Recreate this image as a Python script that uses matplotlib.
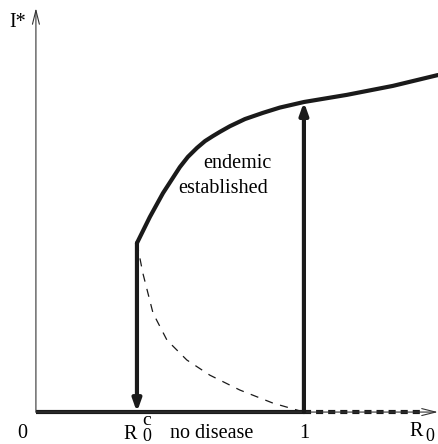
import matplotlib
matplotlib.use("Agg")
import matplotlib.pyplot as plt

plt.rcParams['font.family'] = ['Liberation Serif', 'DejaVu Serif']

# bifurcation point and threshold (R0 axis, arbitrary scale)
r0_crit = 0.377
r0_one = 1.0
r0_max = 1.5

# stable endemic branch I*(R0)
upper_x = [0.377, 0.425, 0.474, 0.537, 0.567, 0.601, 0.631, 0.660, 0.687, 0.724, 0.780,
           0.847, 0.910, 1.0, 1.160, 1.332, 1.500]
upper_y = [0.545, 0.629, 0.706, 0.790, 0.823, 0.852, 0.874, 0.890, 0.904, 0.922, 0.945,
           0.965, 0.982, 1.0, 1.023, 1.052, 1.087]

# unstable branch (dashed)
lower_x = [0.377, 0.399, 0.437, 0.489, 0.563, 0.649, 0.761, 0.884, 1.0]
lower_y = [0.545, 0.448, 0.319, 0.232, 0.168, 0.119, 0.071, 0.029, 0.0]

fig = plt.figure(figsize=(4.39, 4.44), dpi=100)
ax = fig.add_axes([0, 0, 1, 1])
ax.set_xlim(-0.134, 1.504)
ax.set_ylim(-0.103, 1.329)
ax.axis('off')

# axes with open arrowheads
ax.annotate('', xy=(1.500, 0), xytext=(0, 0),
            arrowprops=dict(arrowstyle='->,head_length=1.0,head_width=0.25', lw=0.8,
                            color='#333333', shrinkA=0, shrinkB=0))
ax.annotate('', xy=(0, 1.303), xytext=(0, 0),
            arrowprops=dict(arrowstyle='->,head_length=1.0,head_width=0.25', lw=0.8,
                            color='#333333', shrinkA=0, shrinkB=0))

# disease-free state: stable below 1, unstable above
ax.plot([0, r0_one], [0, 0], color='#1a1a1a', lw=3, solid_capstyle='butt')
ax.plot([r0_one, 1.444], [0, 0], color='#1a1a1a', lw=3, dashes=(1.7, 1.2))

# endemic branches
ax.plot(upper_x, upper_y, color='#1a1a1a', lw=3, solid_joinstyle='round', solid_capstyle='round')
ax.plot(lower_x, lower_y, color='#1a1a1a', lw=0.9, dashes=(6.5, 6))

# jumps
ax.annotate('', xy=(r0_crit, 0), xytext=(r0_crit, upper_y[0]),
            arrowprops=dict(arrowstyle='-|>,head_length=0.7,head_width=0.25', lw=3,
                            color='#1a1a1a', shrinkA=0, shrinkB=0))
ax.annotate('', xy=(r0_one, 1.0), xytext=(r0_one, 0),
            arrowprops=dict(arrowstyle='-|>,head_length=0.7,head_width=0.25', lw=3,
                            color='#1a1a1a', shrinkA=0, shrinkB=0))

fs = 14.5
ax.text(-0.067, 1.258, 'I*', fontsize=fs, ha='center', va='center')
ax.text(-0.052, -0.068, '0', fontsize=fs, ha='center', va='center')
# R0^c written as separate pieces, as in the figure
ax.text(0.351, -0.071, 'R', fontsize=fs, ha='center', va='center')
ax.text(0.414, -0.043, 'c', fontsize=14, ha='center', va='baseline')
ax.text(0.414, -0.0935, '0', fontsize=13, ha='center', va='baseline')
ax.text(0.657, -0.068, 'no disease', fontsize=fs, ha='center', va='center')
ax.text(r0_one, -0.068, '1', fontsize=fs, ha='center', va='center')
ax.text(1.418, -0.064, 'R', fontsize=fs, ha='center', va='center')
ax.text(1.469, -0.0935, '0', fontsize=13, ha='center', va='baseline')
ax.text(0.75, 0.802, 'endemic', fontsize=fs, ha='center', va='center')
ax.text(0.70, 0.722, 'established', fontsize=fs, ha='center', va='center')

fig.savefig('out.png', dpi=100)
